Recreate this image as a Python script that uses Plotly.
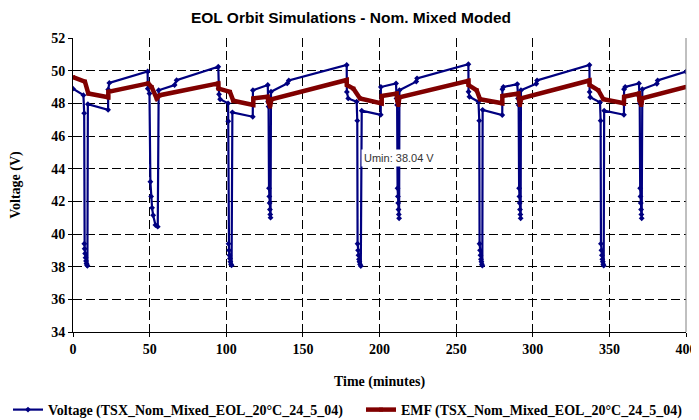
import plotly.graph_objects as go

# ---- data ----
volt_t = [0, 6.8, 7.3, 7.4, 7.6, 7.9, 8.2, 8.5, 8.8, 9.1, 9.4, 9.7, 22.9, 23.0, 23.7, 48.7,
          48.8, 49.9, 50.5, 51.0, 51.6, 52.3, 53.8, 55.3, 55.9, 66.3, 67.6, 94.8,
          95.0, 95.3, 96.0, 101.2, 101.3, 101.5, 101.8, 102.1, 102.4, 102.7, 103.1, 103.5, 104.0,
          117.3, 117.4, 127.1, 127.3, 127.6, 127.9, 128.1, 128.3, 128.5, 128.7, 128.9, 129.2,
          139.8, 140.8, 178.6,
          178.7, 179.6, 185.1, 185.5, 185.7, 186.0, 186.3, 186.6, 186.9, 187.3, 187.8, 188.4,
          200.8, 200.9, 210.8, 211.1, 211.5, 211.8, 212.0, 212.2, 212.4, 212.6, 212.8, 213.0,
          224.0, 224.5, 258.0,
          258.1, 258.7, 264.6, 265.1, 265.3, 265.6, 265.9, 266.2, 266.5, 266.8, 267.1, 267.3,
          280.1, 280.2, 280.8, 289.9, 290.4, 290.8, 291.1, 291.3, 291.5, 291.7, 291.9, 292.1, 292.3,
          302.3, 302.8, 337.0,
          337.1, 337.5, 343.9, 344.3, 344.5, 344.8, 345.1, 345.4, 345.7, 346.0, 346.3, 346.6,
          359.5, 359.6, 360.3, 369.3, 369.5, 369.8, 370.1, 370.3, 370.5, 370.7, 370.9, 371.1, 371.5,
          381.0, 381.5, 400]
volt_v = [48.9, 48.5, 47.4, 39.4, 39.1, 38.8, 38.55, 38.35, 38.2, 38.1, 38.05, 47.95, 47.6, 48.85, 49.25, 49.95,
          48.9, 48.6, 43.2, 42.3, 41.6, 41.15, 40.55, 40.45, 48.8, 49.12, 49.42, 50.24,
          48.9, 48.55, 48.25, 48.0, 46.9, 39.4, 39.0, 38.7, 38.5, 38.3, 38.15, 38.08, 47.45,
          47.18, 48.8, 49.12, 48.1, 47.8, 42.8, 42.3, 41.9, 41.5, 41.2, 41.0, 48.71,
          49.22, 49.4, 50.35,
          48.7, 48.3, 48.1, 46.94, 39.4, 39.0, 38.7, 38.45, 38.3, 38.15, 38.04, 47.55,
          47.3, 49.0, 49.22, 48.3, 47.9, 42.8, 42.3, 41.9, 41.5, 41.2, 40.96, 48.8,
          49.33, 49.53, 50.39,
          48.71, 48.4, 48.1, 46.94, 39.4, 39.0, 38.7, 38.45, 38.3, 38.15, 38.06, 47.6,
          47.28, 48.86, 49.0, 49.18, 48.3, 47.9, 42.8, 42.3, 41.9, 41.5, 41.2, 40.96, 48.8,
          49.2, 49.4, 50.35,
          48.7, 48.37, 48.06, 46.94, 39.4, 39.0, 38.7, 38.45, 38.3, 38.15, 38.06, 47.55,
          47.3, 48.86, 49.0, 49.22, 48.4, 48.0, 42.8, 42.3, 41.9, 41.5, 41.2, 40.96, 48.86,
          49.2, 49.4, 49.94]

emf_t = [0, 7.8, 10.0, 23.0, 23.1, 49.1, 51.3, 54.6, 56.8, 94.8, 95.0, 102.4, 104.6, 117.6, 117.7,
         127.0, 127.4, 128.6, 129.5, 178.6, 178.7, 183.0, 187.3, 201.4, 201.5, 211.2, 211.5, 212.3,
         213.0, 258.0, 258.1, 263.4, 265.6, 280.1, 280.2, 290.6, 291.0, 291.6, 292.5, 337.0, 337.1,
         342.8, 346.1, 359.5, 359.6, 369.3, 369.6, 370.8, 371.5, 400]
emf_v = [49.6, 49.33, 48.6, 48.37, 48.71, 49.22, 49.0, 48.3, 48.5, 49.22, 48.9, 48.7, 48.16, 47.9, 48.3,
         48.4, 48.1, 47.8, 48.25, 49.43, 49.12, 48.9, 48.3, 48.0, 48.45, 48.6, 48.2, 47.9,
         48.37, 49.38, 49.12, 48.8, 48.25, 48.0, 48.45, 48.6, 48.2, 47.9, 48.3, 49.4, 49.12,
         48.8, 48.25, 48.0, 48.4, 48.6, 48.2, 47.9, 48.3, 49.0]

x_ticks = [0, 50, 100, 150, 200, 250, 300, 350, 400]
y_ticks = [34, 36, 38, 40, 42, 44, 46, 48, 50, 52]

umin_t = 187.8
umin_v = 38.04
umin_label_v = 44.65

SERIF = "Liberation Serif"
SANS = "Liberation Sans"

# The page body adds an 8px offset, so the figure is sized to the visible area.
W, H = 691, 412

fig = go.Figure()
fig.add_trace(go.Scatter(
    x=volt_t, y=volt_v, mode="lines+markers",
    name="Voltage (TSX_Nom_Mixed_EOL_20°C_24_5_04)",
    line=dict(color="#000080", width=2.2),
    marker=dict(symbol="diamond", size=4.5, color="#000080"),
    legend="legend",
))
fig.add_trace(go.Scatter(
    x=emf_t, y=emf_v, mode="lines+markers",
    name="EMF (TSX_Nom_Mixed_EOL_20°C_24_5_04)",
    line=dict(color="#800000", width=4.5),
    marker=dict(symbol="square", size=4, color="#800000"),
    legend="legend2",
))

fig.add_annotation(
    x=umin_t, y=umin_label_v, xref="x", yref="y",
    text=f"Umin: {umin_v:.2f} V", showarrow=False,
    xanchor="left", yanchor="middle",
    font=dict(family=SANS, size=11, color="#333333"),
    bgcolor="white", borderpad=2,
)

fig.add_shape(type="line", xref="x domain", yref="y domain", x0=1, x1=1, y0=0, y1=1,
              line=dict(color="#808080", width=1))

axis_font = dict(family=SERIF, size=14, color="black", weight="bold")
legend_font = dict(family=SERIF, size=14, color="black", weight="bold")
leg_y = (324 - 402) / 294

fig.update_layout(
    width=W, height=H,
    margin=dict(l=65, r=13, t=30, b=88, autoexpand=False),
    paper_bgcolor="white", plot_bgcolor="white",
    title=dict(text="EOL Orbit Simulations - Nom. Mixed Moded",
               font=dict(family=SANS, size=15.5, color="black", weight="bold"),
               x=343 / W, xanchor="center", xref="container",
               y=1 - 9.5 / H, yref="container", yanchor="middle", automargin=False),
    xaxis=dict(range=[0, 400], tickvals=x_ticks, ticks="outside", ticklen=4, tickcolor="black",
               showline=True, linecolor="black", linewidth=1,
               showgrid=True, gridcolor="black", gridwidth=1, griddash="9px,4px",
               zeroline=False, tickfont=axis_font, automargin=False,
               title=dict(text="Time (minutes)", font=axis_font, standoff=20)),
    yaxis=dict(range=[34, 52], tickvals=y_ticks, ticks="outside", ticklen=4, tickcolor="black",
               showline=True, linecolor="black", linewidth=1,
               showgrid=True, gridcolor="black", gridwidth=1, griddash="9px,4px",
               zeroline=False, tickfont=axis_font, automargin=False,
               title=dict(text="Voltage (V)", font=axis_font, standoff=27)),
    legend=dict(orientation="h", x=-65 / 613, xanchor="left",
                y=leg_y, yanchor="middle", font=legend_font,
                bgcolor="rgba(0,0,0,0)"),
    legend2=dict(orientation="h", x=(353 - 65) / 613, xanchor="left",
                 y=leg_y, yanchor="middle", font=legend_font,
                 bgcolor="rgba(0,0,0,0)"),
    showlegend=True,
)

fig.write_html("out.html")
